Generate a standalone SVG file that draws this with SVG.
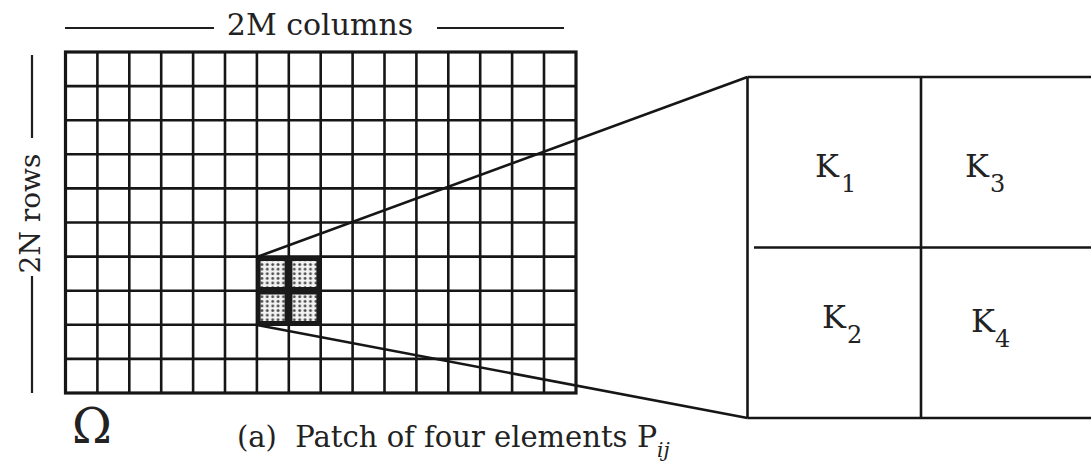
<svg xmlns="http://www.w3.org/2000/svg" width="1091" height="464" viewBox="0 0 1091 464">
  <style>
    .ln { stroke: #161616; stroke-width: 2.6; fill: none; }
    .border { stroke: #161616; stroke-width: 3.2; fill: none; }
    .thin { stroke: #1e1e1e; stroke-width: 2.2; fill: none; }
    text { font-family: 'DejaVu Serif', 'Liberation Serif', serif; fill: #222; }
  </style>
  <defs>
    <pattern id="dots" x="0" y="0" width="5.4" height="4.6" patternUnits="userSpaceOnUse">
      <rect width="5.4" height="4.6" fill="#f2f2f2"/>
      <circle cx="2.7" cy="2.3" r="1.45" fill="#4a4a4a"/>
    </pattern>
  </defs>
  <rect width="1091" height="464" fill="#ffffff"/>

  <g id="label-columns">
    <line class="thin" x1="65" y1="28" x2="214" y2="28"/>
    <text x="320" y="35" font-size="30" text-anchor="middle">2M columns</text>
    <line class="thin" x1="437" y1="28" x2="564" y2="28"/>
  </g>
  <g id="label-rows">
    <line class="thin" x1="32" y1="55" x2="32" y2="138"/>
    <text transform="translate(40,213.5) rotate(-90)" font-size="28" text-anchor="middle">2N rows</text>
    <line class="thin" x1="32" y1="276" x2="32" y2="393"/>
  </g>

  <g id="grid">
    <g class="ln">
      <line x1="97.4" y1="52" x2="97.4" y2="393"/>
      <line x1="129.3" y1="52" x2="129.3" y2="393"/>
      <line x1="161.2" y1="52" x2="161.2" y2="393"/>
      <line x1="193.1" y1="52" x2="193.1" y2="393"/>
      <line x1="225.0" y1="52" x2="225.0" y2="393"/>
      <line x1="256.9" y1="52" x2="256.9" y2="393"/>
      <line x1="288.8" y1="52" x2="288.8" y2="393"/>
      <line x1="320.7" y1="52" x2="320.7" y2="393"/>
      <line x1="352.6" y1="52" x2="352.6" y2="393"/>
      <line x1="384.5" y1="52" x2="384.5" y2="393"/>
      <line x1="416.4" y1="52" x2="416.4" y2="393"/>
      <line x1="448.3" y1="52" x2="448.3" y2="393"/>
      <line x1="480.2" y1="52" x2="480.2" y2="393"/>
      <line x1="512.1" y1="52" x2="512.1" y2="393"/>
      <line x1="544.0" y1="52" x2="544.0" y2="393"/>
      <line x1="65.5" y1="86.1" x2="576" y2="86.1"/>
      <line x1="65.5" y1="120.2" x2="576" y2="120.2"/>
      <line x1="65.5" y1="154.3" x2="576" y2="154.3"/>
      <line x1="65.5" y1="188.4" x2="576" y2="188.4"/>
      <line x1="65.5" y1="222.5" x2="576" y2="222.5"/>
      <line x1="65.5" y1="256.6" x2="576" y2="256.6"/>
      <line x1="65.5" y1="290.7" x2="576" y2="290.7"/>
      <line x1="65.5" y1="324.8" x2="576" y2="324.8"/>
      <line x1="65.5" y1="358.9" x2="576" y2="358.9"/>
    </g>
    <rect class="border" x="65.5" y="52" width="510.5" height="341"/>
  </g>

  <g id="patch">
    <rect x="256.9" y="256.6" width="63.8" height="68.2" fill="#1a1a1a"/>
    <rect x="260.6" y="261" width="24" height="26" fill="url(#dots)"/>
    <rect x="292.4" y="261" width="24" height="26" fill="url(#dots)"/>
    <rect x="260.6" y="294.5" width="24" height="26.5" fill="url(#dots)"/>
    <rect x="292.4" y="294.5" width="24" height="26.5" fill="url(#dots)"/>
  </g>

  <g id="omega-label">
    <text x="72" y="443" font-size="48">Ω</text>
  </g>

  <g id="caption">
    <text x="237" y="447" font-size="29" xml:space="preserve">(a)  Patch of four elements</text>
    <text x="637" y="447" font-size="30">P</text>
    <text x="657" y="457" font-size="20" font-style="italic">ij</text>
  </g>

  <g id="connectors">
    <line class="ln" x1="257" y1="257" x2="747.5" y2="77"/>
    <line class="ln" x1="257" y1="325" x2="747.5" y2="418"/>
  </g>

  <g id="zoom-box">
    <line class="ln" x1="747.5" y1="77" x2="1091" y2="77"/>
    <line class="ln" x1="747.5" y1="418" x2="1091" y2="418"/>
    <line class="ln" x1="747.5" y1="77" x2="747.5" y2="418"/>
    <line class="ln" x1="921" y1="77" x2="921" y2="418"/>
    <line class="ln" x1="754" y1="247.5" x2="1091" y2="247.5"/>
  </g>
  <g id="K1">
    <text x="815" y="177" font-size="32">K<tspan dx="2" dy="15" font-size="24">1</tspan></text>
  </g>
  <g id="K3">
    <text x="965" y="177" font-size="32">K<tspan dx="1" dy="15" font-size="24">3</tspan></text>
  </g>
  <g id="K2">
    <text x="822" y="328" font-size="32">K<tspan dx="1" dy="15" font-size="24">2</tspan></text>
  </g>
  <g id="K4">
    <text x="971" y="332" font-size="32">K<tspan dx="0" dy="15" font-size="24">4</tspan></text>
  </g>
</svg>
